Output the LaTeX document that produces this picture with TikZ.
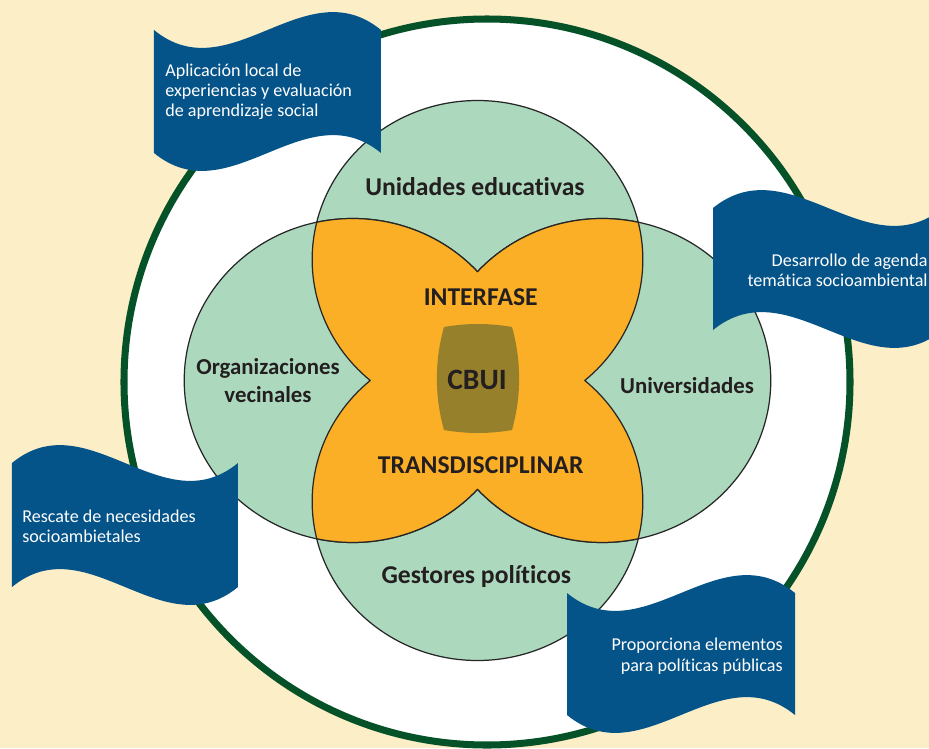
\documentclass[tikz,border=0pt]{standalone}
\usepackage{fontspec}
\setmainfont[Ligatures={NoCommon}]{Carlito}
\definecolor{cream}{RGB}{252,238,199}
\definecolor{ringgreen}{RGB}{6,82,40}
\definecolor{leafgreen}{RGB}{172,217,189}
\definecolor{interorange}{RGB}{251,175,38}
\definecolor{barrelolive}{RGB}{151,128,43}
\definecolor{flagblue}{RGB}{4,83,137}
\definecolor{inkgray}{RGB}{35,31,32}
\tikzstyle{petal}=[fill=leafgreen,draw=black!85,line width=0.7pt]
\tikzstyle{actor}=[font=\bfseries\fontsize{14.6}{16}\selectfont,text=inkgray,align=center,inner sep=0pt]
\tikzstyle{sideactor}=[actor,font=\bfseries\fontsize{13}{16}\selectfont]
\tikzstyle{banner}=[fill=flagblue]
\tikzstyle{bannertext}=[font=\fontsize{10.3}{11.6}\selectfont,text=white,inner sep=0pt]

\begin{document}
\begin{tikzpicture}[x=0.02cm,y=0.02cm]
    \useasboundingbox (-477.5,-367.5) rectangle (451.5,380.5);
    \clip (-477.5,-367.5) rectangle (451.5,380.5);
    \fill[cream] (-477.5,-367.5) rectangle (451.5,380.5);
    \draw[ringgreen,line width=4pt,fill=white] (9.5,-1.5) circle[radius=363];

    % the four actors and their overlap
    \begin{scope}[xscale=1.04]
    \foreach \cx/\cy/\r in {0/121/159,0/-121/159,-120/0/162,120/0/162}
        \draw[petal] (\cx,\cy) circle[radius=\r];
    \draw[fill=interorange,draw=black!85,line width=0.7pt,line join=round] (0,108.83)
        arc[start angle=137.80,end angle=77.68,radius=162]
        arc[start angle=13.56,end angle=-49.55,radius=159]
        arc[start angle=49.55,end angle=-13.56,radius=159]
        arc[start angle=-77.68,end angle=-137.80,radius=162]
        arc[start angle=-42.20,end angle=-102.32,radius=162]
        arc[start angle=193.56,end angle=130.45,radius=159]
        arc[start angle=229.55,end angle=166.44,radius=159]
        arc[start angle=102.32,end angle=42.20,radius=162]
        -- cycle;
    \end{scope}

    \fill[barrelolive] (-33.5,53.5) .. controls (-11,57.5) and (12,57.5) .. (34.5,53.5)
        .. controls (44,20) and (44,-16) .. (34.5,-49.5)
        .. controls (12,-53.5) and (-11,-53.5) .. (-33.5,-49.5)
        .. controls (-43,-16) and (-43,20) .. cycle;

    \node[actor] (unidades) at (-2.5,193.5) {Unidades educativas};
    \node[sideactor] (vecinales) at (-209.5,-0.5) {Organizaciones\\vecinales};
    \node[sideactor] (universidades) at (209.5,-5) {Universidades};
    \node[actor] (gestores) at (-1.2,-196.5) {Gestores políticos};
    \node[actor] (interfase) at (3.2,83.7) {INTERFASE};
    \node[actor] (transdis) at (3.2,-84.5) {TRANSDISCIPLINAR};
    \node[actor,font=\bfseries\fontsize{16.8}{18}\selectfont] (cbui) at (-0.5,0.5) {CBUI};

    % flags
    \foreach \fx/\fy/\fw/\fh/\fa in {-323.5/350.5/227/123/-62,235.5/172.5/230/122/62,-465.5/-82.5/226/124/62,89.5/-212.5/228/122/-62}
        \fill[banner] (\fx,\fy) .. controls ({\fx+\fw/3},{\fy+\fa}) and ({\fx+2*\fw/3},{\fy-(\fa)}) .. ({\fx+\fw},\fy)
            -- ({\fx+\fw},{\fy-\fh}) .. controls ({\fx+2*\fw/3},{\fy-\fh-(\fa)}) and ({\fx+\fw/3},{\fy-\fh+\fa}) .. (\fx,{\fy-\fh}) -- cycle;

    \node[bannertext,anchor=west,align=left] (aplicacion) at (-312.5,288.8) {Aplicación local de\\experiencias y evaluación\\de aprendizaje social};
    \node[bannertext,anchor=east,align=right] (agenda) at (450.5,110.5) {Desarrollo de agenda\\temática socioambiental};
    \node[bannertext,anchor=west,align=left] (rescate) at (-455.5,-146) {Rescate de necesidades\\socioambietales};
    \node[bannertext,anchor=east,align=right] (politicas) at (305.5,-275.5) {Proporciona elementos\\para políticas públicas};
\end{tikzpicture}
\end{document}
